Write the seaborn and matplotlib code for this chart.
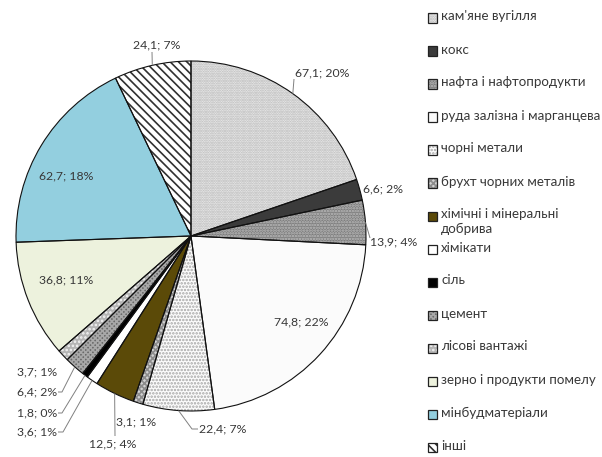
import numpy as np
import matplotlib
matplotlib.use("Agg")
import matplotlib.pyplot as plt
import matplotlib.patches as mpatches
import seaborn as sns

# data
categories = ["кам'яне вугілля", "кокс", "нафта і нафтопродукти",
              "руда залізна і марганцева", "чорні метали", "брухт чорних металів",
              "хімічні і мінеральні\nдобрива", "хімікати", "сіль", "цемент",
              "лісові вантажі", "зерно і продукти помелу", "мінбудматеріали", "інші"]
values = [67.1, 6.6, 13.9, 74.8, 22.4, 3.1, 12.5, 3.6, 1.8, 6.4, 3.7, 36.8, 62.7, 24.1]
percents = [20, 2, 4, 22, 7, 1, 4, 1, 0, 2, 1, 11, 18, 7]

# styles
faces = ['#f0f0f0', '#3b3b3b', '#7d7d7d', '#fbfbfb', '#fcfcfc', '#d2d2d2', '#5b4a08',
         '#ffffff', '#000000', '#6a6a6a', '#b5b5b5', '#edf2dd', '#93cfdf', '#ffffff']
hatches = ['.......', '', '......', '', '.....', 'xxxxxx', '', '', '', 'xxxxxxx', '....', '', '', '\\\\\\\\']
hatch_cols = ['#b4b4b4', '#3b3b3b', '#bdbdbd', '#fbfbfb', '#a6a6a6', '#8c8c8c', '#5b4a08',
              '#ffffff', '#000000', '#a8a8a8', '#f4f4f4', '#edf2dd', '#93cfdf', '#303030']

sns.set_theme(style='white')
plt.rcParams['font.family'] = ['Lato', 'DejaVu Sans']
plt.rcParams['hatch.linewidth'] = 1.2
txt_col = '#383838'

W, H = 602, 457
fig = plt.figure(figsize=(W / 100, H / 100), dpi=100)
fig.patch.set_facecolor('white')
cx, cy, R = 191, 236, 175
ax = fig.add_axes([(cx - R) / W, (H - cy - R) / H, 2 * R / W, 2 * R / H])

wedges, _ = ax.pie(values, startangle=90, counterclock=False, radius=1,
                   colors=faces, hatch=hatches, wedgeprops=dict(linewidth=0))
for w, hc in zip(wedges, hatch_cols):
    w.set_edgecolor(hc)
    w.set_linewidth(0)
ax.pie(values, startangle=90, counterclock=False, radius=1,
       wedgeprops=dict(fill=False, edgecolor='#111111', linewidth=0.8))
ax.set_xlim(-1, 1)
ax.set_ylim(-1, 1)
ax.set_aspect('equal')
ax.axis('off')

# label layout: pixel position, alignment, leader (pixel points from label side)
def d(px, py):
    return ((px - cx) / R, (cy - py) / R)

layout = [
    ((295, 73), 'left', [(294, 79)]),
    ((363, 189), 'left', None),
    ((370, 242), 'left', [(370, 238)]),
    ((301, 322), 'center', None),
    ((199, 429), 'left', [(198, 429), (192, 429)]),
    ((136, 422), 'center', None),
    ((113, 444), 'center', [(115, 436)]),
    ((57, 432), 'right', [(58, 432), (63, 432)]),
    ((57, 413), 'right', [(58, 413), (62, 413)]),
    ((57, 392), 'right', [(58, 392), (62, 392)]),
    ((57, 372), 'right', None),
    ((66, 280), 'center', None),
    ((66, 176), 'center', None),
    ((157, 45), 'center', [(152, 52)]),
]

total = sum(values)
cum = 0
for i, (v, p) in enumerate(zip(values, percents)):
    mid = (cum + v / 2) / total * 2 * np.pi
    cum += v
    (px, py), ha, leader = layout[i]
    lx, ly = d(px, py)
    lab = f"{v:.1f}".replace('.', ',') + f"; {p}%"
    ax.text(lx, ly, lab, ha=ha, va='center', fontsize=8.8, color=txt_col, clip_on=False)
    if leader:
        pts = [d(*q) for q in leader] + [(np.sin(mid), np.cos(mid))]
        xs, ys = zip(*pts)
        ax.plot(xs, ys, color='#808080', lw=0.7, clip_on=False, solid_capstyle='butt')

# legend on the right
s = 9
for i, name in enumerate(categories):
    yc = 18 + 33 * i
    box = ((428) / W, (H - yc - s / 2) / H)
    fig.patches.append(mpatches.Rectangle(box, s / W, s / H,
                                          transform=fig.transFigure, facecolor=faces[i],
                                          hatch=hatches[i], edgecolor=hatch_cols[i], linewidth=0))
    fig.patches.append(mpatches.Rectangle(box, s / W, s / H,
                                          transform=fig.transFigure, fill=False,
                                          edgecolor='#222222', linewidth=0.9))
    fig.text(441 / W, (H - yc + 7.5) / H, name, ha='left', va='top', fontsize=9.6,
             color=txt_col, linespacing=1.2)

fig.savefig('out.png', dpi=100, facecolor='white')
